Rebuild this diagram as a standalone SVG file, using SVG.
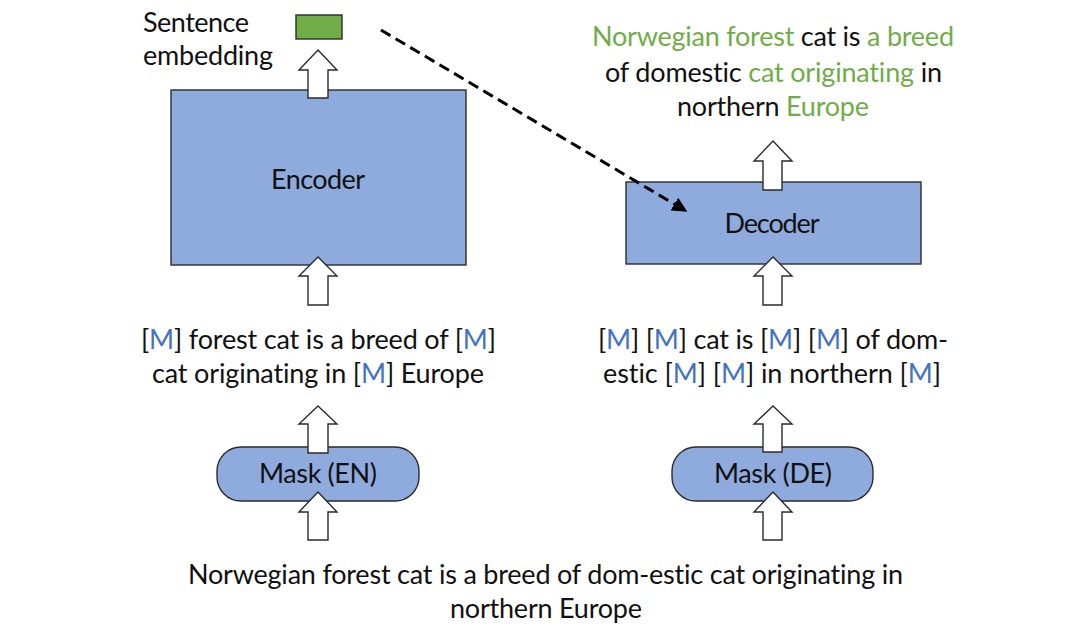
<svg xmlns="http://www.w3.org/2000/svg" width="1080" height="638" viewBox="0 0 1080 638">
<style>
text{font-family:Lato,"Noto Sans","Liberation Sans",sans-serif;font-size:27px;fill:#111;font-variant-ligatures:none;font-feature-settings:"liga" 0}
.c{text-anchor:middle}
.g{fill:#70AD47}
.m{fill:#4472C4}
.box{fill:#8FAADC;stroke:#2b2b2b;stroke-width:1.4}
.blk{fill:#fff;stroke:#2b2b2b;stroke-width:1.4;stroke-linejoin:miter}
.dash{fill:none;stroke:#000;stroke-width:3;stroke-dasharray:11 6}
</style>
<defs>
<marker id="ah" viewBox="0 0 10 10" refX="9" refY="5" markerWidth="5" markerHeight="5" orient="auto" markerUnits="strokeWidth">
<path d="M0,0 L10,5 L0,10 Z" fill="#000"/>
</marker>
</defs>
<rect width="1080" height="638" fill="#fff"/>

<g id="encoder">
<rect class="box" x="171" y="90" width="295" height="175"/>
<text class="c" x="318" y="189" textLength="94">Encoder</text>
</g>
<g id="decoder">
<rect class="box" x="626" y="182" width="295" height="82"/>
<text class="c" x="772" y="233" textLength="95">Decoder</text>
</g>
<g id="mask-en">
<rect class="box" x="217" y="447" width="202" height="54" rx="24" ry="24"/>
<text class="c" x="318" y="483" textLength="118">Mask (EN)</text>
</g>
<g id="mask-de">
<rect class="box" x="672" y="447" width="201" height="54" rx="24" ry="24"/>
<text class="c" x="773" y="483" textLength="118">Mask (DE)</text>
</g>
<g id="sentence-embedding">
<rect x="296" y="15" width="46" height="24" fill="#70AD47" stroke="#2b2b2b" stroke-width="1.4"/>
<text x="143" y="32" textLength="106">Sentence</text>
<text x="143" y="65" textLength="130">embedding</text>
</g>
<g id="output-text">
<text class="c" x="773" y="46" textLength="362"><tspan class="g">Norwegian forest</tspan> cat is <tspan class="g">a breed</tspan></text>
<text class="c" x="773.5" y="82" textLength="337">of domestic <tspan class="g">cat originating</tspan> in</text>
<text class="c" x="773" y="116" textLength="192">northern <tspan class="g">Europe</tspan></text>
</g>
<g id="masked-en">
<text class="c" x="318.5" y="349" textLength="355">[<tspan class="m">M</tspan>] forest cat is a breed of [<tspan class="m">M</tspan>]</text>
<text class="c" x="318" y="383" textLength="332">cat originating in [<tspan class="m">M</tspan>] Europe</text>
</g>
<g id="masked-de">
<text class="c" x="773" y="349" textLength="350">[<tspan class="m">M</tspan>] [<tspan class="m">M</tspan>] cat is [<tspan class="m">M</tspan>] [<tspan class="m">M</tspan>] of dom-</text>
<text class="c" x="772" y="383" textLength="338">estic [<tspan class="m">M</tspan>] [<tspan class="m">M</tspan>] in northern [<tspan class="m">M</tspan>]</text>
</g>
<g id="input-text">
<text class="c" x="545.5" y="584" textLength="715">Norwegian forest cat is a breed of dom-estic cat originating in</text>
<text class="c" x="546" y="618" textLength="192">northern Europe</text>
</g>

<g id="connectors">
<path class="blk" d="M318,50 L337,70 L328,70 L328,98 L308,98 L308,70 L299,70 Z"/>
<path class="blk" d="M318,257 L337,276 L328,276 L328,305 L308,305 L308,276 L299,276 Z"/>
<path class="blk" d="M318,406 L337,424 L328,424 L328,453 L308,453 L308,424 L299,424 Z"/>
<path class="blk" d="M318,492 L337,512 L328,512 L328,540 L308,540 L308,512 L299,512 Z"/>
<path class="blk" d="M773,141 L792,161 L782,161 L782,190 L763,190 L763,161 L754,161 Z"/>
<path class="blk" d="M773,257 L792,276 L782,276 L782,305 L763,305 L763,276 L754,276 Z"/>
<path class="blk" d="M773,406 L792,424 L782,424 L782,452 L763,452 L763,424 L754,424 Z"/>
<path class="blk" d="M773,492 L792,512 L782,512 L782,540 L763,540 L763,512 L754,512 Z"/>
<line class="dash" x1="381" y1="30" x2="686" y2="211" marker-end="url(#ah)"/>
</g>
</svg>
